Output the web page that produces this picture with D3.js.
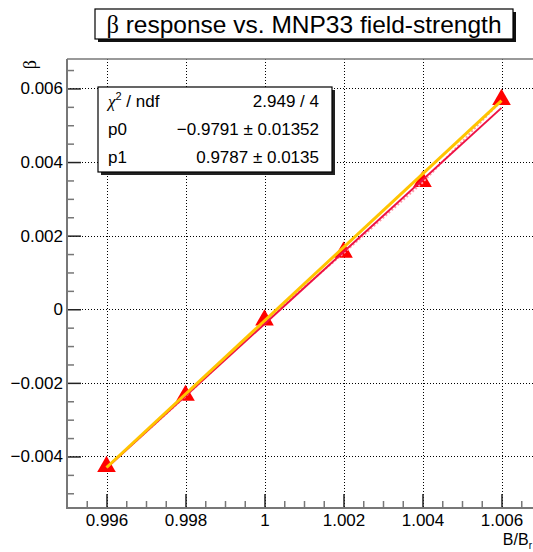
<!DOCTYPE html>
<html>
<head>
<meta charset="utf-8">
<script src="https://cdn.jsdelivr.net/npm/d3@7"></script>
<style>
  html, body { margin: 0; padding: 0; background: #fff; }
  svg { display: block; }
  text { font-family: "Liberation Sans", Arial, Helvetica, sans-serif; fill: #000; }
</style>
</head>
<body>
<svg id="chart" width="533" height="552"></svg>
<script>
// Field strength (B/B_ref) and measured beta response
const fieldValues = [0.996, 0.998, 1.000, 1.002, 1.004, 1.006];
const betaValues  = [-0.00430, -0.00237, -0.00032, 0.00152, 0.00344, 0.00567];

// Linear fit result (pol1: p0 + p1*x)
const fitP0 = -0.9791;
const fitP1 = 0.9787;
const fitRange = [0.996, 1.006];

// Reference line between the end points
const refX = [0.996, 1.006];
const refY = [-0.00430, 0.00567];

// Axis ticks and labels
const xTicks = [0.996, 0.998, 1.000, 1.002, 1.004, 1.006];
const xTickLabels = ["0.996", "0.998", "1", "1.002", "1.004", "1.006"];
const yTicks = [-0.004, -0.002, 0, 0.002, 0.004, 0.006];
const yTickLabels = ["\u22120.004", "\u22120.002", "0", "0.002", "0.004", "0.006"];

// Fit statistics box rows
const statNames  = ["chi2", "p0", "p1"];
const statValues = ["2.949 / 4", "\u22120.9791 \u00b1 0.01352", "0.9787 \u00b1 0.0135"];

const svg = d3.select("#chart");
svg.append("rect").attr("width", 533).attr("height", 552).attr("fill", "#fff");

const frame = { left: 67, right: 541, top: 59, bottom: 508 };
const x = d3.scaleLinear().domain([0.995, 1.007]).range([frame.left, frame.right]);
const y = d3.scaleLinear().domain([-0.0054, 0.0068]).range([frame.bottom, frame.top]);

// Grid
const grid = svg.append("g").attr("stroke", "#000").attr("stroke-width", 1)
  .attr("stroke-dasharray", "1,2");
grid.selectAll("line.gx").data(xTicks).join("line")
  .attr("x1", d => Math.round(x(d)) + 0.5).attr("x2", d => Math.round(x(d)) + 0.5)
  .attr("y1", frame.top).attr("y2", frame.bottom);
grid.selectAll("line.gy").data(yTicks).join("line")
  .attr("y1", d => Math.round(y(d)) + 0.5).attr("y2", d => Math.round(y(d)) + 0.5)
  .attr("x1", frame.left).attr("x2", 533);

// Minor tick positions every 0.0005
const xMinor = d3.range(0.9955, 1.0066, 0.0005).filter(v => !xTicks.some(t => Math.abs(t - v) < 1e-7));
const yMinor = d3.range(-0.005, 0.0066, 0.0005).filter(v => !yTicks.some(t => Math.abs(t - v) < 1e-7));

// Axes (ticks point into the frame)
const xAxis = d3.axisBottom(x).tickValues(xTicks)
  .tickFormat((d, i) => xTickLabels[i]).tickSizeInner(-14).tickSizeOuter(0).tickPadding(6);
const yAxis = d3.axisLeft(y).tickValues(yTicks)
  .tickFormat((d, i) => yTickLabels[i]).tickSizeInner(-14).tickSizeOuter(0).tickPadding(4);

const gx = svg.append("g").attr("transform", `translate(0,${frame.bottom})`).call(xAxis);
const gy = svg.append("g").attr("transform", `translate(${frame.left},0)`).call(yAxis);
[gx, gy].forEach(g => {
  g.attr("font-size", 17).attr("font-family", "Liberation Sans, Arial, sans-serif");
  g.select(".domain").remove();
  g.selectAll(".tick line").attr("stroke", "#222").attr("stroke-width", 1.5);
  g.selectAll(".tick text").attr("fill", "#000");
});

const gxm = svg.append("g").attr("transform", `translate(0,${frame.bottom})`)
  .call(d3.axisBottom(x).tickValues(xMinor).tickFormat("").tickSizeInner(-7).tickSizeOuter(0));
const gym = svg.append("g").attr("transform", `translate(${frame.left},0)`)
  .call(d3.axisLeft(y).tickValues(yMinor).tickFormat("").tickSizeInner(-7).tickSizeOuter(0));
[gxm, gym].forEach(g => {
  g.select(".domain").remove();
  g.selectAll(".tick line").attr("stroke", "#777").attr("stroke-width", 1.5);
});

// Frame lines
const fr = svg.append("g").attr("stroke", "#777").attr("stroke-width", 2).attr("fill", "none");
fr.append("line").attr("x1", frame.left).attr("x2", frame.left).attr("y1", frame.top).attr("y2", frame.bottom + 1);
fr.append("line").attr("x1", frame.left - 1).attr("x2", 533).attr("y1", frame.bottom).attr("y2", frame.bottom);
fr.append("line").attr("x1", frame.left).attr("x2", 533).attr("y1", frame.top).attr("y2", frame.top)
  .attr("stroke-width", 1.5);

// Data markers
const pts = fieldValues.map((v, i) => [v, betaValues[i]]);
svg.append("g").selectAll("path").data(pts).join("path")
  .attr("d", d3.symbol(d3.symbolTriangle, 150))
  .attr("transform", d => `translate(${x(d[0])},${y(d[1]) - 1})`)
  .attr("fill", "#ff0000");

// Polyline through the data points (dotted)
const line = d3.line().x(d => x(d[0])).y(d => y(d[1]));
svg.append("path").datum(pts).attr("d", line)
  .attr("fill", "none").attr("stroke", "#ff9aa8").attr("stroke-width", 2)
  .attr("stroke-dasharray", "2,2");

// Fit line
const fitPts = fitRange.map(v => [v, fitP0 + fitP1 * v]);
svg.append("path").datum(fitPts).attr("d", line)
  .attr("fill", "none").attr("stroke", "#ee1144").attr("stroke-width", 2);

// Reference line
const refPts = refX.map((v, i) => [v, refY[i]]);
svg.append("path").datum(refPts).attr("d", line)
  .attr("fill", "none").attr("stroke", "#ffc400").attr("stroke-width", 3);

// Axis titles
svg.append("text").attr("transform", "translate(36,60) rotate(-90)")
  .attr("text-anchor", "end").attr("font-size", 18)
  .style("font-family", "Liberation Serif, serif").text("\u03b2");

const xt = svg.append("text").attr("x", 532).attr("y", 545).attr("font-size", 16).attr("text-anchor", "end");
xt.append("tspan").text("B/B");
xt.append("tspan").attr("font-size", 10).attr("dy", 4).text("r");

// Title box
const tb = { x: 95, y: 9, w: 418, h: 30 };
svg.append("rect").attr("x", tb.x + 3).attr("y", tb.y + 3).attr("width", tb.w).attr("height", tb.h).attr("fill", "#111");
svg.append("rect").attr("x", tb.x).attr("y", tb.y).attr("width", tb.w).attr("height", tb.h)
  .attr("fill", "#fff").attr("stroke", "#000").attr("stroke-width", 1.2);
const tt = svg.append("text").attr("x", tb.x + tb.w / 2).attr("y", 33).attr("text-anchor", "middle").attr("font-size", 24.5);
tt.append("tspan").style("font-family", "Liberation Serif, serif").text("\u03b2");
tt.append("tspan").text(" response vs. MNP33 field-strength");

// Statistics box
const sb = { x: 98, y: 87, w: 234, h: 85 };
svg.append("rect").attr("x", sb.x + 3).attr("y", sb.y + 3).attr("width", sb.w).attr("height", sb.h).attr("fill", "#222");
svg.append("rect").attr("x", sb.x).attr("y", sb.y).attr("width", sb.w).attr("height", sb.h)
  .attr("fill", "#fff").attr("stroke", "#000").attr("stroke-width", 1.2);
const rowBase = [107, 135, 163];
statNames.forEach((name, i) => {
  const t = svg.append("text").attr("x", 108).attr("y", rowBase[i]).attr("font-size", 17);
  if (name === "chi2") {
    t.append("tspan").style("font-family", "Liberation Serif, serif").style("font-style", "italic").text("\u03c7");
    t.append("tspan").attr("font-size", 11).attr("dy", -7).text("2");
    t.append("tspan").attr("dy", 7).text(" / ndf");
  } else {
    t.text(name);
  }
  svg.append("text").attr("x", 319).attr("y", rowBase[i]).attr("text-anchor", "end")
    .attr("font-size", 17).text(statValues[i]);
});
</script>
</body>
</html>
